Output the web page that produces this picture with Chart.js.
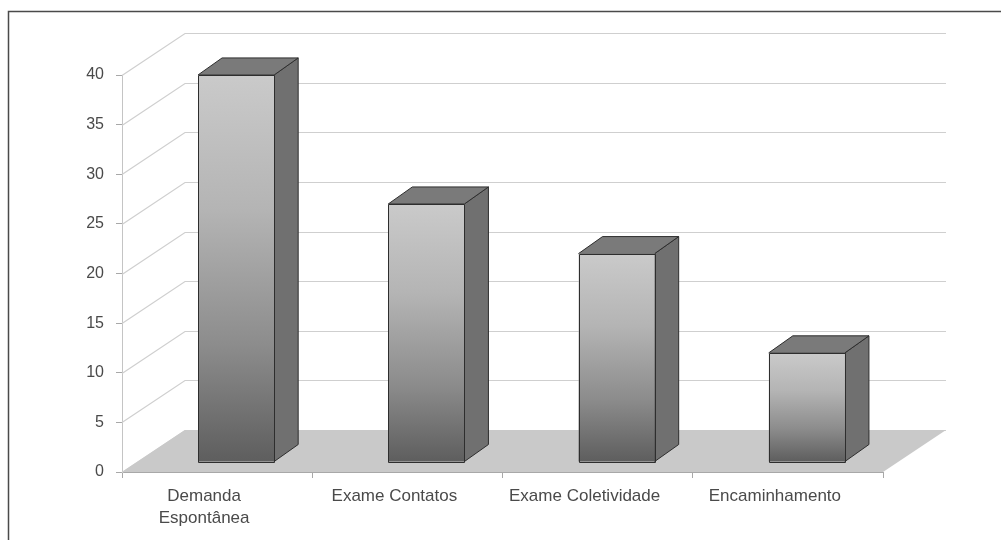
<!DOCTYPE html>
<html>
<head>
<meta charset="utf-8">
<script src="https://cdn.jsdelivr.net/npm/chart.js@4/dist/chart.umd.min.js"></script>
<style>
  body { margin: 0; background: #fff; }
  #wrap { width: 1001px; height: 540px; position: relative; }
</style>
</head>
<body>
<div id="wrap"><canvas id="chart3d" width="1001" height="540"></canvas></div>
<script>
// categorias e valores
const categorias = [['Demanda', 'Espontânea'], 'Exame Contatos', 'Exame Coletividade', 'Encaminhamento'];
const valores = [39, 26, 21, 11];
const yTicks = [0, 5, 10, 15, 20, 25, 30, 35, 40];

// profundidade da "parede" 3D
const WALL_DX = 63, WALL_DY = -42;
// deslocamento da face frontal da barra e profundidade da barra
const BAR_SX = 19, BAR_SY = -10;
const BAR_DX = 24, BAR_DY = -17;

const frame3d = {
  id: 'frame3d',
  beforeDraw(chart) {
    const ctx = chart.ctx;
    ctx.save();
    ctx.fillStyle = '#fff';
    ctx.fillRect(0, 0, chart.width, chart.height);
    // moldura (so topo e esquerda aparecem)
    ctx.strokeStyle = '#4a4a4a';
    ctx.lineWidth = 1.5;
    ctx.beginPath();
    ctx.moveTo(8.5, 540);
    ctx.lineTo(8.5, 11.5);
    ctx.lineTo(1001, 11.5);
    ctx.stroke();
    ctx.restore();
  },
  beforeDatasetsDraw(chart) {
    const ctx = chart.ctx;
    const y = chart.scales.y, a = chart.chartArea;
    ctx.save();
    // linhas de grade na parede de fundo
    ctx.strokeStyle = '#cfcfcf';
    ctx.lineWidth = 1.2;
    yTicks.forEach(v => {
      const py = Math.round(y.getPixelForValue(v)) + 0.5;
      ctx.beginPath();
      ctx.moveTo(a.left, py);
      ctx.lineTo(a.left + WALL_DX, py + WALL_DY);
      ctx.lineTo(a.right + WALL_DX, py + WALL_DY);
      ctx.stroke();
    });
    // piso
    const y0 = y.getPixelForValue(0);
    ctx.fillStyle = '#c9c9c9';
    ctx.beginPath();
    ctx.moveTo(a.left, y0);
    ctx.lineTo(a.right, y0);
    ctx.lineTo(a.right + WALL_DX, y0 + WALL_DY);
    ctx.lineTo(a.left + WALL_DX, y0 + WALL_DY);
    ctx.closePath();
    ctx.fill();
    ctx.restore();
  },
  afterDatasetsDraw(chart) {
    const ctx = chart.ctx;
    const meta = chart.getDatasetMeta(0);
    ctx.save();
    ctx.lineWidth = 1;
    ctx.strokeStyle = '#2e2e2e';
    ctx.lineJoin = 'round';
    meta.data.forEach(bar => {
      const p = bar.getProps(['x', 'y', 'base', 'width'], true);
      const x0 = p.x - p.width / 2 + BAR_SX;
      const x1 = p.x + p.width / 2 + BAR_SX;
      const top = p.y + BAR_SY;
      const bot = p.base + BAR_SY;
      // face lateral
      ctx.fillStyle = '#707070';
      ctx.beginPath();
      ctx.moveTo(x1, top);
      ctx.lineTo(x1 + BAR_DX, top + BAR_DY);
      ctx.lineTo(x1 + BAR_DX, bot + BAR_DY);
      ctx.lineTo(x1, bot);
      ctx.closePath();
      ctx.fill();
      ctx.stroke();
      // topo
      ctx.fillStyle = '#7a7a7a';
      ctx.beginPath();
      ctx.moveTo(x0, top);
      ctx.lineTo(x0 + BAR_DX, top + BAR_DY);
      ctx.lineTo(x1 + BAR_DX, top + BAR_DY);
      ctx.lineTo(x1, top);
      ctx.closePath();
      ctx.fill();
      ctx.stroke();
      // frente com degrade
      const g = ctx.createLinearGradient(0, top, 0, bot);
      g.addColorStop(0, '#cacaca');
      g.addColorStop(0.35, '#b4b4b4');
      g.addColorStop(0.7, '#8c8c8c');
      g.addColorStop(1, '#5e5e5e');
      ctx.fillStyle = g;
      ctx.fillRect(x0, top, x1 - x0, bot - top);
      ctx.strokeRect(Math.round(x0) + 0.5, Math.round(top) + 0.5, Math.round(x1 - x0), Math.round(bot - top));
    });
    ctx.restore();
  }
};

const ctx = document.getElementById('chart3d').getContext('2d');
const chart3d = new Chart(ctx, {
  type: 'bar',
  data: {
    labels: categorias,
    datasets: [{
      label: 'Total',
      data: valores,
      backgroundColor: 'rgba(0,0,0,0)',
      borderWidth: 0,
      barPercentage: 0.4,
      categoryPercentage: 1
    }]
  },
  options: {
    responsive: false,
    animation: false,
    layout: { padding: { top: 75, right: 118, bottom: 0, left: 0 } },
    plugins: {
      legend: { display: false },
      title: { display: false },
      tooltip: { enabled: false }
    },
    scales: {
      x: {
        afterFit: s => { s.height = 68; },
        border: { display: true, color: '#a8a8a8', width: 1 },
        grid: { display: true, drawOnChartArea: false, offset: true, tickLength: 6, color: '#a8a8a8' },
        ticks: {
          color: '#4a4a4a',
          font: { family: 'Liberation Sans, Arial, sans-serif', size: 17, lineHeight: 1.3 },
          padding: 7,
          labelOffset: -13,
          maxRotation: 0
        }
      },
      y: {
        min: 0,
        max: 40,
        afterFit: s => { s.width = 122; },
        border: { display: true, color: '#c4c4c4', width: 1 },
        grid: { display: true, drawOnChartArea: false, tickLength: 6, color: '#a8a8a8' },
        ticks: {
          stepSize: 5,
          color: '#4a4a4a',
          font: { family: 'Liberation Sans, Arial, sans-serif', size: 16 },
          padding: 12
        }
      }
    }
  },
  plugins: [frame3d]
});
</script>
</body>
</html>
